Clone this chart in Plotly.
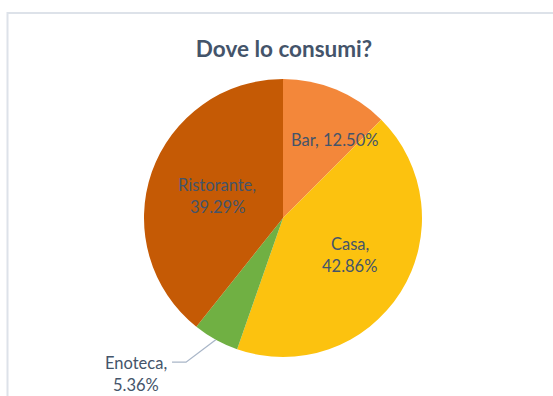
import math
import plotly.graph_objects as go

# Survey: where the product is consumed (share of answers)
categories = ["Bar", "Casa", "Enoteca", "Ristorante"]
shares = [12.50, 42.86, 5.36, 39.29]
slice_colors = ["#F3873A", "#FCC20F", "#70B043", "#C55A05"]

W, H = 553, 396
CX, CY, R = 283, 218, 139  # pie centre and radius in pixels

TEXT = "#44546A"
FONT = "Lato, 'Open Sans', sans-serif"
LABEL_SIZE = 16.5

fig = go.Figure(go.Pie(
    labels=categories,
    values=shares,
    sort=False,
    direction="clockwise",
    rotation=0,
    marker=dict(colors=slice_colors, line=dict(width=0)),
    textinfo="none",
    hoverinfo="label+percent",
    domain=dict(x=[(CX - R) / W, (CX + R) / W],
                y=[(H - CY - R) / H, (H - CY + R) / H]),
    showlegend=False,
))


def px_to_paper(x, y):
    return x / W, 1 - y / H


def polar(angle_deg, rfrac):
    a = math.radians(angle_deg)
    return CX + R * rfrac * math.sin(a), CY - R * rfrac * math.cos(a)


total = sum(shares)
mid_angles = {}
acc = 0.0
for cat, v in zip(categories, shares):
    mid_angles[cat] = (acc + v / 2) / total * 360
    acc += v

labels_txt = {c: [f"{c},", f"{v:.2f}%"] for c, v in zip(categories, shares)}

# inside labels: (angle offset, radius fraction, one or two lines)
inside = {"Bar": (11, 0.67, False), "Casa": (-3, 0.55, True), "Ristorante": (-1, 0.50, True)}
LINE = 22
for cat, (off, rf, two) in inside.items():
    x, y = polar(mid_angles[cat] + off, rf)
    lines = labels_txt[cat]
    if not two:
        lines = [" ".join(lines)]
    n = len(lines)
    for i, t in enumerate(lines):
        yy = y + (i - (n - 1) / 2) * LINE
        px, py = px_to_paper(x, yy)
        fig.add_annotation(x=px, y=py, xref="paper", yref="paper", text=t,
                           showarrow=False, xanchor="center", yanchor="middle",
                           font=dict(family=FONT, size=LABEL_SIZE, color=TEXT))

# outside label with leader line for the small slice
ex, ey = polar(mid_angles["Enoteca"], 1.0)
elbow_x, elbow_y = polar(mid_angles["Enoteca"] + 5, 1.25)
end_x = elbow_x - 14
p0 = px_to_paper(ex, ey)
p1 = px_to_paper(elbow_x, elbow_y)
p2 = px_to_paper(end_x, elbow_y)
fig.add_shape(type="path", xref="paper", yref="paper",
              path=f"M {p0[0]},{p0[1]} L {p1[0]},{p1[1]} L {p2[0]},{p2[1]}",
              line=dict(color="#A9B6C8", width=1.3))
lx = end_x - 36
for i, t in enumerate(labels_txt["Enoteca"]):
    px, py = px_to_paper(lx, elbow_y + 1 + i * LINE)
    fig.add_annotation(x=px, y=py, xref="paper", yref="paper", text=t,
                       showarrow=False, xanchor="center", yanchor="middle",
                       font=dict(family=FONT, size=LABEL_SIZE, color=TEXT))

# chart frame
fig.add_shape(type="rect", xref="paper", yref="paper",
              x0=7.5 / W, x1=1.05, y0=-0.05, y1=1 - 13 / H,
              line=dict(color="#DDE2E9", width=2), fillcolor="rgba(0,0,0,0)")

fig.update_layout(
    width=W, height=H,
    margin=dict(l=0, r=0, t=0, b=0),
    paper_bgcolor="white",
    plot_bgcolor="white",
    title=dict(text="<b>Dove lo consumi?</b>", x=284 / W, y=1 - 49 / H,
               xanchor="center", yanchor="middle",
               font=dict(family=FONT, size=22.5, color=TEXT)),
)

fig.write_html("out.html")
